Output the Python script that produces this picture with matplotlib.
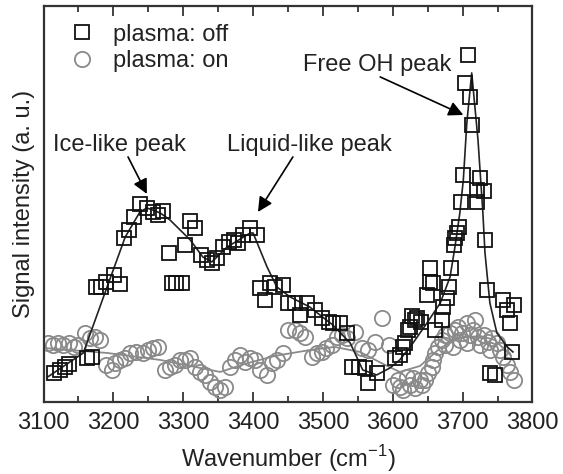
import numpy as np
import matplotlib
matplotlib.use('Agg')
import matplotlib.pyplot as plt

plt.rcParams['font.family'] = ['Liberation Sans', 'DejaVu Sans']

# plasma off (squares)
off_wn = [3115, 3124, 3131, 3137, 3162, 3170, 3175, 3183, 3190, 3201, 3209, 3215, 3223, 3230,
          3238, 3248, 3257, 3264, 3271, 3279, 3284, 3290, 3298, 3303, 3310, 3317, 3326, 3334,
          3341, 3348, 3357, 3365, 3372, 3379, 3386, 3396, 3406, 3410, 3417, 3424, 3431, 3443,
          3450, 3460, 3467, 3477, 3489, 3498, 3508, 3515, 3525, 3534, 3541, 3551, 3560, 3565,
          3577, 3603, 3610, 3615, 3618, 3622, 3625, 3627, 3632, 3634, 3641, 3649, 3653, 3653,
          3658, 3661, 3670, 3672, 3677, 3681, 3684, 3687, 3689, 3692, 3695, 3698, 3701, 3703,
          3708, 3711, 3714, 3720, 3721, 3725, 3730, 3732, 3735, 3739, 3746, 3758, 3763, 3773,
          3768, 3770]
off_y = [29, 32, 35, 38, 44, 45, 115, 115, 120, 127, 118, 164, 172, 185,
         198, 194, 190, 187, 191, 149, 119, 119, 119, 157, 181, 174, 147, 142,
         139, 144, 155, 160, 162, 159, 167, 174, 167, 114, 102, 119, 115, 117,
         99, 99, 87, 99, 92, 84, 80, 79, 79, 69, 35, 35, 34, 19,
         29, 44, 47, 55, 59, 72, 75, 86, 82, 84, 80, 107, 120, 134,
         119, 72, 82, 95, 104, 115, 134, 157, 164, 169, 175, 200, 227, 319,
         347, 305, 277, 200, 212, 224, 211, 162, 112, 29, 27, 102, 92, 97,
         79, 50]

# plasma on (circles)
on_wn = [3107, 3114, 3121, 3128, 3136, 3143, 3150, 3159, 3167, 3174, 3181, 3190, 3198, 3202,
         3210, 3217, 3224, 3233, 3243, 3250, 3257, 3264, 3274, 3281, 3288, 3295, 3303, 3310,
         3317, 3324, 3331, 3338, 3346, 3353, 3360, 3367, 3374, 3381, 3388, 3396, 3403, 3410,
         3420, 3427, 3434, 3443, 3450, 3460, 3467, 3474, 3484, 3491, 3498, 3505, 3513, 3520,
         3527, 3534, 3546, 3556, 3565, 3575, 3584, 3594, 3601, 3607, 3610, 3614, 3620, 3624,
         3629, 3632, 3639, 3642, 3646, 3651, 3656, 3658, 3660, 3665, 3670, 3675, 3675, 3682,
         3686, 3689, 3694, 3696, 3699, 3706, 3706, 3711, 3715, 3718, 3722, 3725, 3730, 3737,
         3739, 3742, 3749, 3754, 3758, 3763, 3768, 3773]
on_y = [59, 57, 59, 57, 59, 55, 57, 69, 64, 65, 62, 37, 32, 39,
        42, 44, 49, 50, 49, 52, 54, 55, 32, 35, 37, 42, 42, 44,
        35, 30, 27, 20, 15, 12, 15, 35, 42, 47, 40, 44, 42, 32,
        27, 39, 42, 49, 72, 72, 69, 65, 45, 49, 50, 54, 57, 65,
        67, 64, 70, 54, 52, 60, 84, 57, 17, 22, 15, 12, 25, 17,
        24, 14, 22, 17, 22, 29, 35, 42, 49, 55, 62, 67, 57, 69,
        55, 72, 75, 62, 69, 79, 59, 67, 72, 82, 65, 57, 67, 60,
        52, 64, 59, 52, 45, 37, 30, 22]

# fitted curves
fit_off_wn = [3106, 3157, 3191, 3217, 3238, 3248, 3267, 3281, 3310, 3328, 3341, 3363, 3396,
              3400, 3420, 3434, 3453, 3481, 3514, 3539, 3557, 3577, 3596, 3610, 3629, 3649,
              3668, 3682, 3689, 3696, 3701, 3706, 3713, 3722, 3729, 3732, 3739, 3749, 3764, 3772]
fit_off_y = [25, 49, 115, 165, 190, 194, 189, 182, 162, 145, 140, 155, 169,
             169, 135, 115, 105, 95, 77, 59, 32, 27, 34, 42, 59, 79,
             99, 125, 155, 189, 222, 279, 329, 262, 189, 149, 99, 69, 55, 50]
fit_on_wn = [3100, 3191, 3267, 3310, 3353, 3388, 3431, 3482, 3517, 3553, 3589, 3610, 3639,
             3668, 3696, 3725, 3746, 3768]
fit_on_y = [54, 49, 42, 36, 30, 38, 46, 52, 55, 50, 37, 30, 36, 54, 64, 66, 62, 47]

fig = plt.figure(figsize=(5.63, 4.74), dpi=100)
ax = fig.add_axes([0.0773, 0.152, 0.8685, 0.8355])

ax.plot(fit_on_wn, fit_on_y, color='#8a8a8a', lw=1.3, zorder=1)
ax.plot(fit_off_wn, fit_off_y, color='#222222', lw=1.2, zorder=3)
ax.plot(on_wn, on_y, 'o', ms=11, mfc='none', mec='#8a8a8a', mew=1.3, label='plasma: on', zorder=2)
ax.plot(off_wn, off_y, 's', ms=10.5, mfc='none', mec='#111111', mew=1.3, label='plasma: off', zorder=4)

ax.set_xlim(3100, 3800)
ax.set_ylim(0, 396)
ax.set_xticks(range(3100, 3801, 100))
ax.set_xticks(range(3150, 3800, 100), minor=True)
ax.set_yticks([])
ax.tick_params(axis='x', which='both', direction='in', top=True, labelsize=17, colors='#222222', pad=7)
ax.tick_params(axis='x', which='major', length=7, width=1.2)
ax.tick_params(axis='x', which='minor', length=4, width=1.2)
for s in ax.spines.values():
    s.set_linewidth(1.6)
    s.set_color('#333333')

ax.set_xlabel('Wavenumber (cm$^{\\mathregular{-1}}$)', fontsize=17, color='#222222', labelpad=7)
ax.set_ylabel('Signal intensity (a. u.)', fontsize=17, color='#222222', labelpad=6)

h, l = ax.get_legend_handles_labels()
ax.legend(h[::-1], l[::-1], loc='upper left', bbox_to_anchor=(0.054, 0.955), frameon=False,
          fontsize=17, numpoints=1, handlelength=1.0, handletextpad=0.84, borderpad=0,
          borderaxespad=0, labelspacing=0.2, labelcolor='#222222')

arrow = dict(arrowstyle='-|>', color='black', lw=1.2, mutation_scale=22, shrinkA=0, shrinkB=0)
ax.text(3209, 257, 'Ice-like peak', fontsize=17, color='#222222', ha='center', va='center')
ax.annotate('', xy=(3248, 208), xytext=(3221, 245), arrowprops=arrow)
ax.text(3480, 257, 'Liquid-like peak', fontsize=17, color='#222222', ha='center', va='center')
ax.annotate('', xy=(3407, 190), xytext=(3457, 245), arrowprops=arrow)
ax.text(3577, 337, 'Free OH peak', fontsize=17, color='#222222', ha='center', va='center')
ax.annotate('', xy=(3701, 287), xytext=(3582, 325), arrowprops=arrow)

fig.savefig('out.png', dpi=100)
